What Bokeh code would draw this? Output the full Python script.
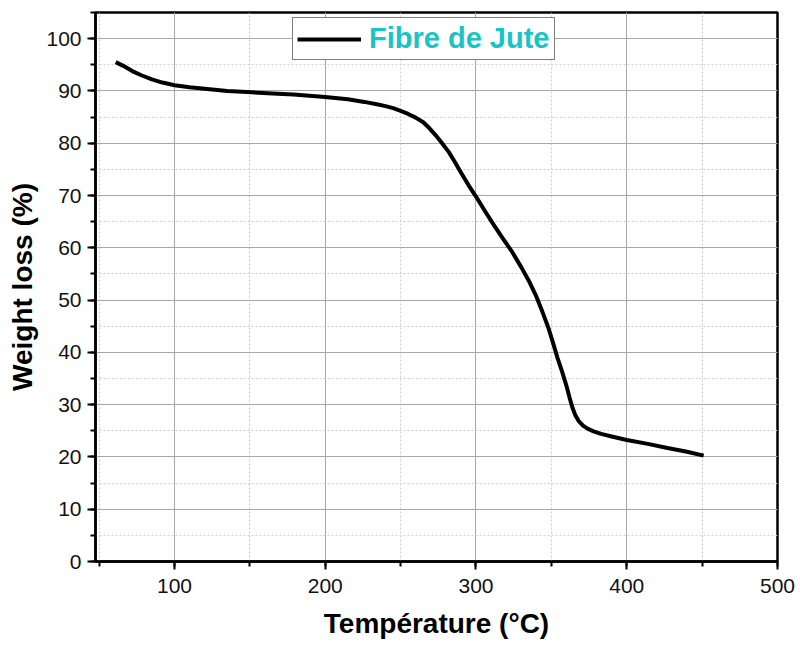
from bokeh.plotting import figure
from bokeh.models import SingleIntervalTicker, Range1d, Legend, LegendItem
from bokeh.embed import file_html
from bokeh.resources import INLINE

# Data
temperature = [61, 66, 72, 78, 85, 92, 100, 110, 120, 135, 148, 165, 179, 200, 215,
               226, 235, 240, 245, 250, 255, 260, 265, 269, 273, 277, 282, 286,
               290, 295, 300, 306, 312, 318, 324, 330, 335, 340, 344, 348, 351,
               354, 357, 360, 362, 364, 366, 368, 371, 374, 378, 383, 390, 400,
               414, 427, 440, 451]
weight = [95.5, 94.8, 93.8, 93.0, 92.2, 91.6, 91.1, 90.7, 90.4, 90.0, 89.8, 89.5,
          89.3, 88.85, 88.4, 87.9, 87.4, 87.1, 86.7, 86.2, 85.6, 84.9, 84.0, 82.9,
          81.6, 80.2, 78.3, 76.4, 74.4, 72.0, 69.8, 67.0, 64.3, 61.7, 59.2, 56.3,
          53.7, 50.7, 47.8, 44.7, 41.9, 39.0, 36.4, 33.6, 31.4, 29.4, 27.9, 26.9,
          26.0, 25.4, 24.9, 24.4, 23.9, 23.25, 22.5, 21.7, 21.0, 20.25]
series_name = "Fibre de Jute"
x_label = "Température (°C)"
y_label = "Weight loss (%)"

FONT = "Liberation Sans"

p = figure(frame_width=682, frame_height=549,
           min_border_left=95, min_border_top=12, min_border_right=18, min_border_bottom=89,
           x_range=Range1d(47.6, 500), y_range=Range1d(0, 105),
           output_backend="svg", toolbar_location=None,
           background_fill_color="white", border_fill_color="white")

p.outline_line_color = "black"
p.outline_line_width = 2.5

for ax in (p.xaxis[0], p.yaxis[0]):
    ax.axis_line_width = 2.5
    ax.axis_line_color = "black"
    ax.major_tick_line_width = 2
    ax.minor_tick_line_width = 2
    ax.major_tick_in = 0
    ax.minor_tick_in = 0
    ax.major_tick_out = 8
    ax.minor_tick_out = 5
    ax.major_label_text_font = FONT
    ax.major_label_text_font_size = "21px"
    ax.major_label_text_color = "#111111"
    ax.axis_label_text_font = FONT
    ax.axis_label_text_font_style = "bold"
    ax.axis_label_text_font_size = "28px"
    ax.axis_label_text_color = "black"

p.xaxis[0].ticker = SingleIntervalTicker(interval=100, num_minor_ticks=2)
p.yaxis[0].ticker = SingleIntervalTicker(interval=10, num_minor_ticks=2)
p.xaxis[0].major_label_standoff = 9
p.yaxis[0].major_label_standoff = 6
p.xaxis[0].axis_label = x_label
p.yaxis[0].axis_label = y_label
p.xaxis[0].axis_label_standoff = 12
p.yaxis[0].axis_label_standoff = 5

for g in (p.xgrid[0], p.ygrid[0]):
    g.grid_line_color = "#a8a8a8"
    g.grid_line_width = 1
    g.minor_grid_line_color = "#cfcfcf"
    g.minor_grid_line_width = 1
    g.minor_grid_line_dash = "2 2"

r = p.line(temperature, weight, line_color="black", line_width=4, line_join="round")

legend = Legend(items=[LegendItem(label=series_name, renderers=[r])],
                location=(197, 501))
legend.label_text_font = FONT
legend.label_text_font_style = "bold"
legend.label_text_font_size = "29px"
legend.label_text_color = "#19c3c7"
legend.glyph_width = 64
legend.glyph_height = 30
legend.label_standoff = 8
legend.padding = 4
legend.margin = 0
legend.spacing = 0
legend.border_line_color = "black"
legend.border_line_width = 1.2
legend.background_fill_color = "white"
legend.background_fill_alpha = 1
p.add_layout(legend, "center")

open("out.html", "w").write(file_html(p, INLINE))
